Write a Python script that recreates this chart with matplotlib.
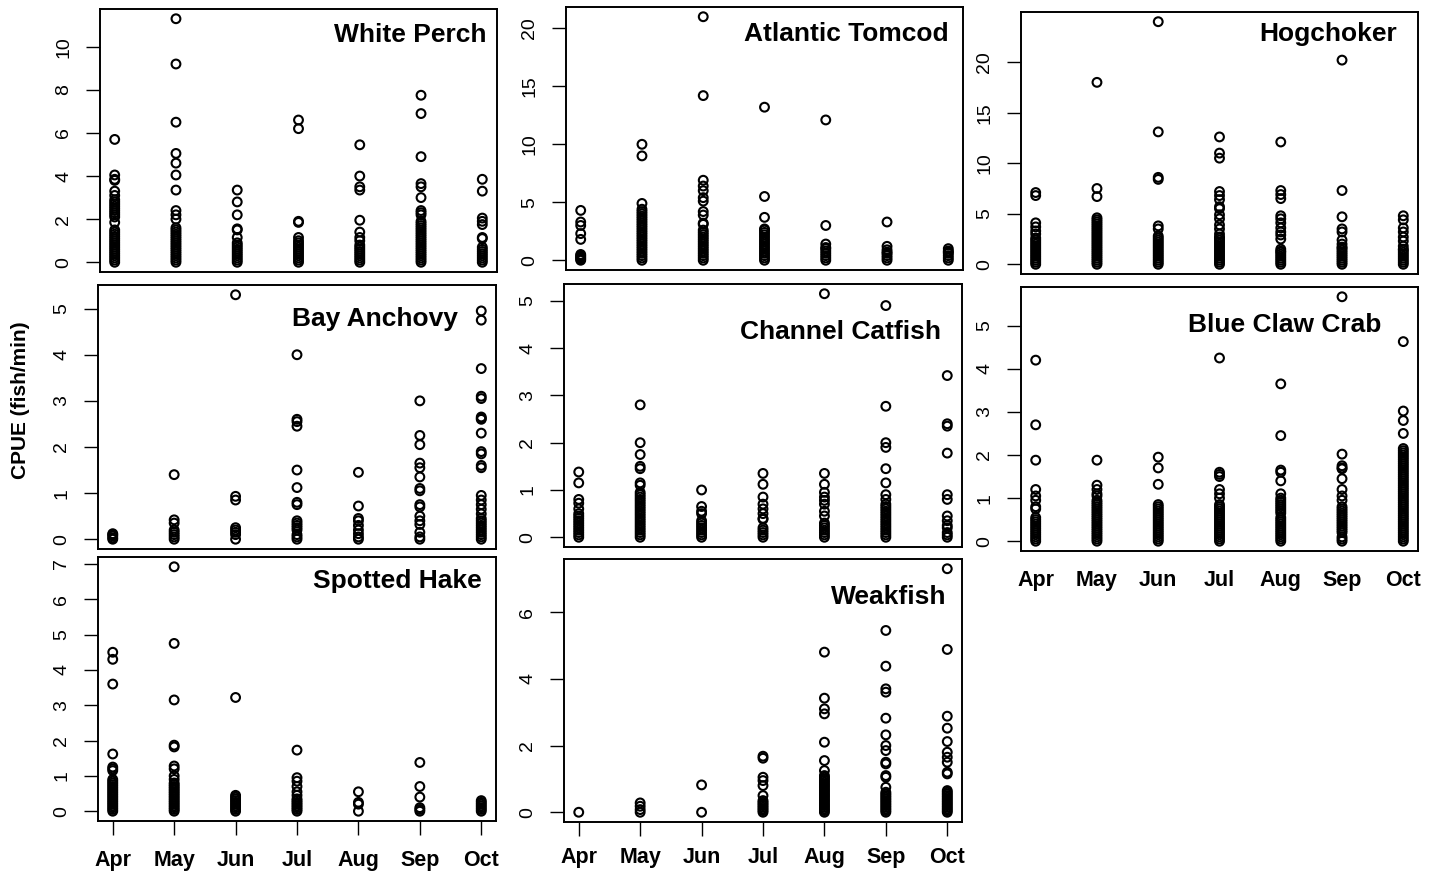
import matplotlib
matplotlib.use("Agg")
import matplotlib.pyplot as plt

plt.rcParams['font.family'] = ['Liberation Sans', 'DejaVu Sans']

months = ["Apr", "May", "Jun", "Jul", "Aug", "Sep", "Oct"]

white_perch = [
    [0, 0.1, 0.2, 0.3, 0.4, 0.5, 0.6, 0.7, 0.8, 0.9, 1.0, 1.1, 1.2, 1.3, 1.4, 1.5, 1.85,
     2.1, 2.2, 2.3, 2.4, 2.5, 2.6, 2.7, 2.8, 2.9, 3.1, 3.3, 3.8, 3.85, 4.05, 5.7],
    [0, 0.1, 0.2, 0.3, 0.4, 0.5, 0.6, 0.7, 0.8, 0.9, 1.0, 1.1, 1.2, 1.3, 1.4, 1.5, 1.6,
     2.0, 2.2, 2.4, 3.35, 4.05, 4.6, 5.05, 6.5, 9.2, 11.3],
    [0, 0.1, 0.2, 0.3, 0.4, 0.5, 0.6, 0.7, 0.8, 0.9, 1.15, 1.5, 1.55, 2.2, 2.8, 3.35],
    [0, 0.1, 0.2, 0.3, 0.4, 0.5, 0.6, 0.7, 0.8, 0.9, 1.0, 1.15, 1.85, 1.9, 6.2, 6.6],
    [0, 0.1, 0.2, 0.3, 0.4, 0.5, 0.6, 0.7, 0.8, 1.0, 1.15, 1.4, 1.95, 3.35, 3.5, 4.0, 5.45],
    [0, 0.1, 0.2, 0.3, 0.4, 0.5, 0.6, 0.7, 0.8, 0.9, 1.0, 1.1, 1.2, 1.3, 1.4, 1.5, 1.6,
     1.7, 1.8, 1.9, 2.2, 2.3, 2.4, 3.0, 3.5, 3.65, 4.9, 6.9, 7.75],
    [0, 0.1, 0.2, 0.3, 0.4, 0.5, 0.6, 0.7, 1.1, 1.15, 1.75, 1.9, 2.05, 3.3, 3.85],
]

atlantic_tomcod = [
    [0, 0.1, 0.2, 0.3, 0.4, 0.5, 1.8, 2.3, 3.0, 3.3, 4.3],
    [0, 0.2, 0.4, 0.6, 0.8, 1.0, 1.2, 1.4, 1.6, 1.8, 2.0, 2.2, 2.4, 2.6, 2.8, 3.0, 3.2,
     3.4, 3.6, 3.8, 4.0, 4.2, 4.4, 4.9, 9.0, 10.0],
    [0, 0.2, 0.4, 0.6, 0.8, 1.0, 1.2, 1.4, 1.6, 1.8, 2.0, 2.2, 2.4, 2.6, 3.1, 3.2, 3.9,
     4.2, 5.1, 5.4, 6.0, 6.4, 6.9, 14.2, 21.0],
    [0, 0.2, 0.4, 0.6, 0.8, 1.0, 1.2, 1.4, 1.6, 1.8, 2.0, 2.2, 2.4, 2.6, 2.7, 3.7, 5.5, 13.2],
    [0, 0.2, 0.4, 0.6, 0.8, 1.0, 1.1, 1.4, 3.0, 12.1],
    [0, 0.2, 0.4, 0.6, 0.7, 0.9, 1.2, 3.3],
    [0, 0.2, 0.4, 0.6, 0.7, 0.8, 1.0],
]

hogchoker = [
    [0, 0.2, 0.4, 0.6, 0.8, 1.0, 1.2, 1.4, 1.6, 1.8, 2.0, 2.2, 2.4, 2.6, 3.0, 3.3, 3.7,
     4.1, 6.8, 7.1],
    [0, 0.2, 0.4, 0.6, 0.8, 1.0, 1.2, 1.4, 1.6, 1.8, 2.0, 2.2, 2.4, 2.6, 2.8, 3.0, 3.2,
     3.4, 3.6, 3.8, 4.0, 4.2, 4.4, 4.6, 6.7, 7.5, 18.0],
    [0, 0.2, 0.4, 0.6, 0.8, 1.0, 1.2, 1.4, 1.6, 1.8, 2.0, 2.2, 2.4, 2.6, 2.8, 3.5, 3.8,
     8.4, 8.6, 13.1, 24.0],
    [0, 0.2, 0.4, 0.6, 0.8, 1.0, 1.2, 1.4, 1.6, 1.8, 2.0, 2.2, 2.4, 2.6, 2.7, 3.0, 3.5,
     3.9, 4.5, 4.9, 5.5, 5.7, 6.4, 6.8, 7.2, 10.5, 11.0, 12.6],
    [0, 0.2, 0.4, 0.6, 0.8, 1.0, 1.2, 1.3, 1.5, 2.5, 2.9, 3.2, 3.6, 4.1, 4.5, 4.8, 6.5,
     6.9, 7.3, 12.1],
    [0, 0.2, 0.4, 0.6, 0.8, 1.0, 1.2, 1.4, 1.6, 1.7, 2.0, 2.4, 3.2, 3.5, 4.7, 7.3, 20.2],
    [0, 0.2, 0.4, 0.6, 0.8, 1.0, 1.2, 1.4, 1.5, 1.8, 2.3, 2.7, 3.2, 3.6, 4.4, 4.8],
]

bay_anchovy = [
    [0, 0.03, 0.07, 0.1, 0.12],
    [0, 0.05, 0.1, 0.15, 0.2, 0.35, 0.42, 1.4],
    [0, 0.1, 0.15, 0.2, 0.25, 0.85, 0.93, 5.3],
    [0, 0.05, 0.1, 0.2, 0.25, 0.3, 0.35, 0.4, 0.75, 0.8, 1.12, 1.5, 2.45, 2.55, 2.6, 4.0],
    [0, 0.05, 0.12, 0.2, 0.3, 0.4, 0.45, 0.72, 1.45],
    [0, 0.05, 0.15, 0.32, 0.4, 0.5, 0.7, 0.75, 1.05, 1.1, 1.35, 1.55, 1.65, 2.05, 2.25, 3.0],
    [0, 0.05, 0.1, 0.15, 0.2, 0.25, 0.3, 0.35, 0.4, 0.45, 0.55, 0.65, 0.75, 0.85, 0.95,
     1.55, 1.6, 1.85, 1.9, 2.3, 2.6, 2.62, 2.65, 3.05, 3.1, 3.7, 4.75, 4.95],
]

channel_catfish = [
    [0, 0.05, 0.1, 0.15, 0.2, 0.25, 0.3, 0.35, 0.4, 0.45, 0.5, 0.6, 0.72, 0.8, 1.15, 1.38],
    [0, 0.05, 0.1, 0.15, 0.2, 0.25, 0.3, 0.35, 0.4, 0.45, 0.5, 0.55, 0.6, 0.65, 0.7, 0.75,
     0.8, 0.85, 0.9, 0.95, 1.1, 1.15, 1.45, 1.5, 1.75, 2.0, 2.8],
    [0, 0.05, 0.1, 0.15, 0.2, 0.25, 0.3, 0.35, 0.5, 0.55, 0.65, 1.0],
    [0, 0.05, 0.1, 0.15, 0.2, 0.38, 0.4, 0.5, 0.6, 0.7, 0.85, 1.12, 1.35],
    [0, 0.05, 0.1, 0.15, 0.2, 0.25, 0.3, 0.45, 0.55, 0.7, 0.78, 0.85, 0.95, 1.12, 1.35, 5.15],
    [0, 0.05, 0.1, 0.15, 0.2, 0.25, 0.3, 0.35, 0.4, 0.45, 0.5, 0.55, 0.6, 0.65, 0.7, 0.8,
     0.9, 1.15, 1.45, 1.9, 2.0, 2.77, 4.9],
    [0, 0.05, 0.1, 0.2, 0.25, 0.35, 0.45, 0.8, 0.9, 1.78, 2.35, 2.4, 3.42],
]

blue_claw_crab = [
    [0, 0.05, 0.1, 0.15, 0.2, 0.25, 0.3, 0.35, 0.4, 0.45, 0.5, 0.55, 0.75, 0.8, 0.95, 1.05,
     1.2, 1.88, 2.7, 4.2],
    [0, 0.05, 0.1, 0.15, 0.2, 0.25, 0.3, 0.35, 0.4, 0.45, 0.5, 0.55, 0.6, 0.65, 0.7, 0.75,
     0.8, 0.85, 0.9, 0.95, 1.05, 1.1, 1.2, 1.3, 1.88],
    [0, 0.05, 0.1, 0.15, 0.2, 0.25, 0.3, 0.35, 0.4, 0.45, 0.5, 0.55, 0.6, 0.65, 0.7, 0.75,
     0.8, 0.85, 1.32, 1.7, 1.95],
    [0, 0.05, 0.1, 0.15, 0.2, 0.25, 0.3, 0.35, 0.4, 0.45, 0.5, 0.55, 0.6, 0.65, 0.7, 0.75,
     0.8, 0.85, 1.0, 1.1, 1.2, 1.5, 1.55, 1.6, 4.25],
    [0, 0.05, 0.1, 0.15, 0.2, 0.25, 0.3, 0.35, 0.4, 0.45, 0.5, 0.55, 0.65, 0.7, 0.75, 0.8,
     0.85, 0.9, 0.95, 1.0, 1.1, 1.4, 1.6, 1.65, 2.45, 3.65],
    [0, 0.05, 0.1, 0.2, 0.25, 0.3, 0.35, 0.4, 0.45, 0.5, 0.55, 0.6, 0.65, 0.7, 0.75, 0.8,
     0.95, 1.05, 1.2, 1.45, 1.68, 1.7, 1.75, 2.02, 5.67],
    [0, 0.05, 0.1, 0.15, 0.2, 0.25, 0.3, 0.35, 0.4, 0.45, 0.5, 0.55, 0.6, 0.65, 0.7, 0.75,
     0.8, 0.85, 0.9, 0.95, 1.0, 1.05, 1.1, 1.15, 1.2, 1.25, 1.3, 1.35, 1.4, 1.45, 1.5,
     1.55, 1.6, 1.65, 1.7, 1.75, 1.8, 1.85, 1.9, 1.95, 2.0, 2.05, 2.1, 2.15, 2.5, 2.8,
     3.02, 4.63],
]

spotted_hake = [
    [0, 0.05, 0.1, 0.15, 0.2, 0.25, 0.3, 0.35, 0.4, 0.45, 0.5, 0.55, 0.6, 0.65, 0.7, 0.75,
     0.8, 0.85, 0.9, 1.15, 1.2, 1.25, 1.62, 3.6, 4.3, 4.5],
    [0, 0.05, 0.1, 0.15, 0.2, 0.25, 0.3, 0.35, 0.4, 0.45, 0.5, 0.55, 0.6, 0.65, 0.7, 0.75,
     0.8, 0.9, 1.0, 1.2, 1.28, 1.82, 1.87, 3.15, 4.75, 6.92],
    [0, 0.05, 0.1, 0.15, 0.2, 0.25, 0.3, 0.35, 0.4, 0.45, 3.22],
    [0, 0.05, 0.1, 0.15, 0.2, 0.25, 0.3, 0.35, 0.45, 0.55, 0.7, 0.85, 0.95, 1.73],
    [0, 0.2, 0.25, 0.55],
    [0, 0.05, 0.1, 0.4, 0.7, 1.38],
    [0, 0.05, 0.1, 0.15, 0.2, 0.25, 0.3],
]

weakfish = [
    [0],
    [0, 0.08, 0.18, 0.28],
    [0, 0.82],
    [0, 0.05, 0.1, 0.15, 0.2, 0.25, 0.3, 0.35, 0.5, 0.8, 0.95, 1.05, 1.62, 1.68],
    [0, 0.05, 0.1, 0.15, 0.2, 0.25, 0.3, 0.35, 0.4, 0.45, 0.5, 0.55, 0.6, 0.65, 0.7, 0.75,
     0.8, 0.85, 0.9, 0.95, 1.0, 1.05, 1.1, 1.25, 1.55, 2.1, 2.95, 3.1, 3.42, 4.8],
    [0, 0.05, 0.1, 0.15, 0.2, 0.25, 0.3, 0.35, 0.4, 0.45, 0.5, 0.55, 0.6, 0.75, 1.05, 1.1,
     1.45, 1.5, 1.85, 2.0, 2.32, 2.82, 3.6, 3.7, 4.38, 5.45],
    [0, 0.05, 0.1, 0.15, 0.2, 0.25, 0.3, 0.35, 0.4, 0.45, 0.5, 0.55, 0.6, 0.65, 1.15, 1.2,
     1.5, 1.65, 1.8, 2.12, 2.52, 2.88, 4.88, 7.3],
]

titles = ["White Perch", "Atlantic Tomcod", "Hogchoker", "Bay Anchovy",
          "Channel Catfish", "Blue Claw Crab", "Spotted Hake", "Weakfish"]
series = [white_perch, atlantic_tomcod, hogchoker, bay_anchovy,
          channel_catfish, blue_claw_crab, spotted_hake, weakfish]
yticks = [[0, 2, 4, 6, 8, 10], [0, 5, 10, 15, 20], [0, 5, 10, 15, 20],
          [0, 1, 2, 3, 4, 5], [0, 1, 2, 3, 4, 5], [0, 1, 2, 3, 4, 5],
          [0, 1, 2, 3, 4, 5, 6, 7], [0, 2, 4, 6]]

W, H = 1441, 874
# panel boxes in pixels: left, top, right, bottom
boxes = [(100, 9, 497, 272), (566, 7, 963, 270), (1021, 12, 1418, 274),
         (98, 285, 496, 549), (564, 284, 962, 547), (1021, 287, 1418, 551),
         (98, 557, 496, 821), (564, 559, 962, 822)]
# title anchor (right x, baseline y) in pixels
title_pos = [(487, 42), (949, 41), (1397, 41), (458, 326), (941, 339),
             (1381, 332), (482, 588), (946, 604)]
# x label mode and label pad
xmode = [None, None, None, None, None, 'labels', 'ticks', 'ticks']
xpad = [0, 0, 0, 0, 0, 14, 11, 8]

fig = plt.figure(figsize=(W / 100, H / 100), dpi=100)

for i in range(8):
    l, t, r, b = boxes[i]
    ax = fig.add_axes([l / W, 1 - b / H, (r - l) / W, (b - t) / H])
    data = series[i]
    allv = []
    for m, vals in enumerate(data):
        ax.scatter([m + 1] * len(vals), vals, s=40, facecolors='none',
                   edgecolors='black', linewidths=1.5, zorder=3)
        allv += vals
    lo, hi = min(allv), max(allv)
    pad = 0.04 * (hi - lo)
    ax.set_ylim(lo - pad, hi + pad)
    ax.set_xlim(1 - 0.04 * 6, 7 + 0.04 * 6)
    ax.set_yticks(yticks[i])
    ax.set_yticklabels([str(v) for v in yticks[i]], rotation=90, va='center',
                       fontsize=14)
    ax.tick_params(axis='y', direction='out', length=10, width=1.0, pad=10)
    for sp in ax.spines.values():
        sp.set_linewidth(1.4)
    ax.set_xticks(range(1, 8))
    if xmode[i] is None:
        ax.tick_params(axis='x', length=0, labelbottom=False)
    elif xmode[i] == 'labels':
        ax.set_xticklabels(months, fontsize=15.5, fontweight='bold')
        ax.tick_params(axis='x', length=0, pad=xpad[i])
    else:
        ax.set_xticklabels(months, fontsize=15.5, fontweight='bold')
        ax.tick_params(axis='x', direction='out', length=10, width=1.0, pad=xpad[i])
    tx, ty = title_pos[i]
    fig.text(tx / W, 1 - ty / H, titles[i], ha='right', va='baseline',
             fontsize=19, fontweight='bold')

fig.text(21 / W, 1 - 400 / H, "CPUE (fish/min)", rotation=90, ha='center',
         va='center', fontsize=15, fontweight='bold')

fig.savefig("out.png", dpi=100)
